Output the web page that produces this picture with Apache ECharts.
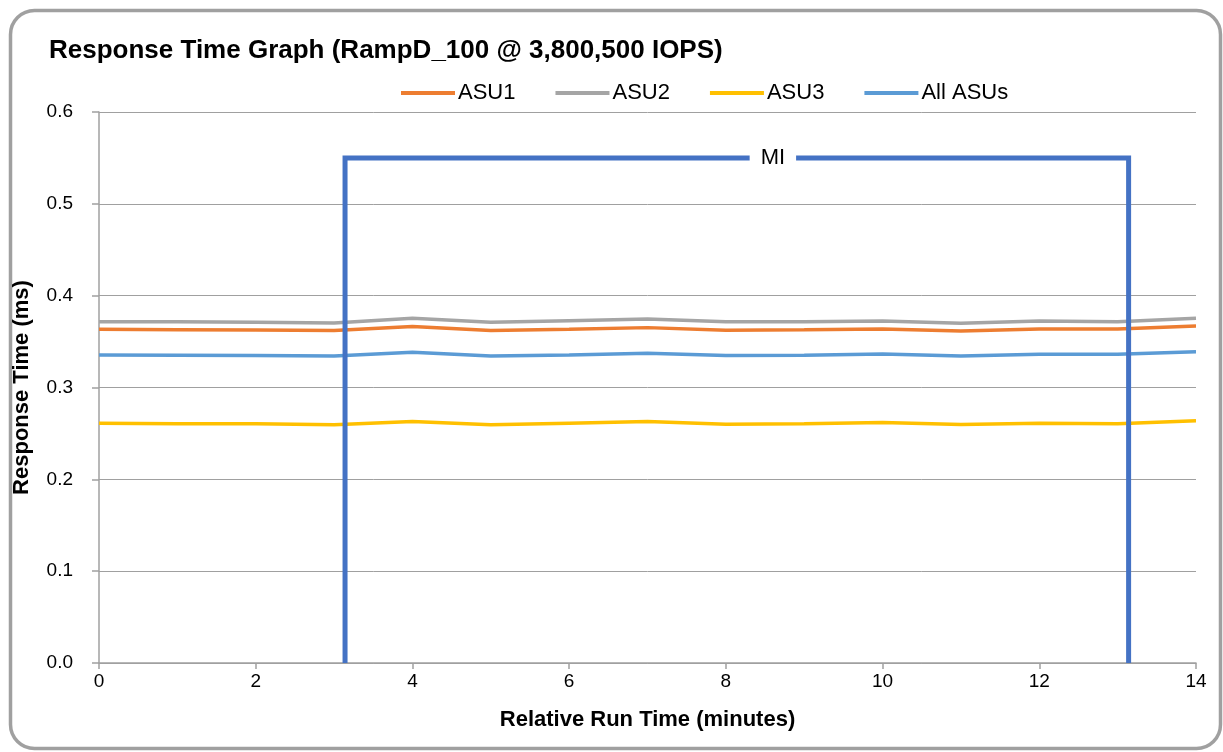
<!DOCTYPE html>
<html>
<head>
<meta charset="utf-8">
<script src="https://cdn.jsdelivr.net/npm/echarts@6/dist/echarts.min.js"></script>
<style>
html,body{margin:0;padding:0;background:#fff;}
#chart{width:1223px;height:752px;}
</style>
</head>
<body>
<div id="chart"></div>
<script>
const minutes = [0,1,2,3,4,5,6,7,8,9,10,11,12,13,14];
const asu1 = [0.3634,0.3630,0.3627,0.3620,0.3663,0.3620,0.3634,0.3652,0.3623,0.3630,0.3638,0.3616,0.3638,0.3638,0.3670];
const asu2 = [0.3717,0.3717,0.3710,0.3703,0.3754,0.3710,0.3728,0.3746,0.3717,0.3717,0.3725,0.3699,0.3725,0.3717,0.3754];
const asu3 = [0.2612,0.2605,0.2605,0.2594,0.2630,0.2594,0.2612,0.2630,0.2601,0.2605,0.2620,0.2598,0.2612,0.2605,0.2638];
const allAsus = [0.3355,0.3351,0.3348,0.3344,0.3384,0.3344,0.3355,0.3373,0.3348,0.3351,0.3366,0.3344,0.3362,0.3362,0.3388];
const miStart = 3.14;
const miEnd = 13.14;
const miLevel = 0.55;
const miLabelX = 8.6;
const seriesNames = ['ASU1','ASU2','ASU3','All ASUs'];
const yTicks = {min:0, max:0.6, interval:0.1};
const xTicks = {min:0, max:14, interval:2};

const pair = arr => minutes.map((m,i)=>[m,arr[i]]);
const FONT = '"Liberation Sans", Arial, sans-serif';

const chart = echarts.init(document.getElementById('chart'));
chart.setOption({
  animation:false,
  backgroundColor:'#fff',
  textStyle:{fontFamily:FONT},
  graphic:[{
    type:'rect', left:8, top:8,
    shape:{width:1210, height:738, r:24},
    style:{fill:'none', stroke:'#a0a0a0', lineWidth:3.5}
  }],
  title:{
    text:'Response Time Graph (RampD_100 @ 3,800,500 IOPS)',
    left:44, top:33,
    textStyle:{fontFamily:FONT, fontSize:26, fontWeight:'bold', color:'#000'}
  },
  legend:{
    data:seriesNames,
    top:77, left:396,
    itemWidth:54, itemHeight:4, itemGap:40,
    icon:'rect',
    textStyle:{fontFamily:FONT, fontSize:22, color:'#000', padding:[0,0,0,-2]}
  },
  grid:{left:99, right:27, top:112, bottom:89},
  xAxis:{
    type:'value', min:xTicks.min, max:xTicks.max, interval:xTicks.interval,
    name:'Relative Run Time (minutes)', nameLocation:'middle', nameGap:46,
    nameTextStyle:{fontFamily:FONT, fontSize:22, fontWeight:'bold', color:'#000'},
    axisLine:{show:true, lineStyle:{color:'#a0a0a0', width:1.5}},
    axisTick:{show:true, inside:false, length:6, lineStyle:{color:'#a0a0a0', width:1.5}},
    axisLabel:{fontFamily:FONT, fontSize:19, color:'#000', margin:9},
    splitLine:{show:false}
  },
  yAxis:{
    type:'value', min:yTicks.min, max:yTicks.max, interval:yTicks.interval,
    name:'Response Time (ms)', nameLocation:'middle', nameGap:66, nameRotate:90,
    nameTextStyle:{fontFamily:FONT, fontSize:22, fontWeight:'bold', color:'#000'},
    axisLine:{show:true, lineStyle:{color:'#a0a0a0', width:1.5}},
    axisTick:{show:true, inside:false, length:7, lineStyle:{color:'#a0a0a0', width:1.5}},
    axisLabel:{fontFamily:FONT, fontSize:19, color:'#000', margin:26, formatter:v=>v.toFixed(1)},
    splitLine:{show:true, lineStyle:{color:'#a0a0a0', width:1}}
  },
  series:[
    {name:'ASU1', type:'line', data:pair(asu1), showSymbol:false, lineStyle:{width:3.5, color:'#ED7D31'}, itemStyle:{color:'#ED7D31'}, z:3},
    {name:'ASU2', type:'line', data:pair(asu2), showSymbol:false, lineStyle:{width:3.5, color:'#A5A5A5'}, itemStyle:{color:'#A5A5A5'}, z:3},
    {name:'ASU3', type:'line', data:pair(asu3), showSymbol:false, lineStyle:{width:3.5, color:'#FFC000'}, itemStyle:{color:'#FFC000'}, z:3},
    {name:'All ASUs', type:'line', data:pair(allAsus), showSymbol:false, lineStyle:{width:3.5, color:'#5B9BD5'}, itemStyle:{color:'#5B9BD5'}, z:3},
    {name:'MI', type:'line', data:[[miStart,0],[miStart,miLevel],[miEnd,miLevel],[miEnd,0]],
     showSymbol:false, lineStyle:{width:5, color:'#4472C4', join:'miter'}, itemStyle:{color:'#4472C4'}, z:5, silent:true},
    {name:'MI label', type:'scatter', data:[[miLabelX,miLevel]], symbolSize:0, itemStyle:{color:'#fff', opacity:1}, z:6, silent:true,
     emphasis:{disabled:true},
     label:{show:true, position:'inside', formatter:'MI', fontFamily:FONT, fontSize:22, color:'#000', opacity:1,
            backgroundColor:'#fff', padding:[3,11,3,11]}}
  ]
});
</script>
</body>
</html>
